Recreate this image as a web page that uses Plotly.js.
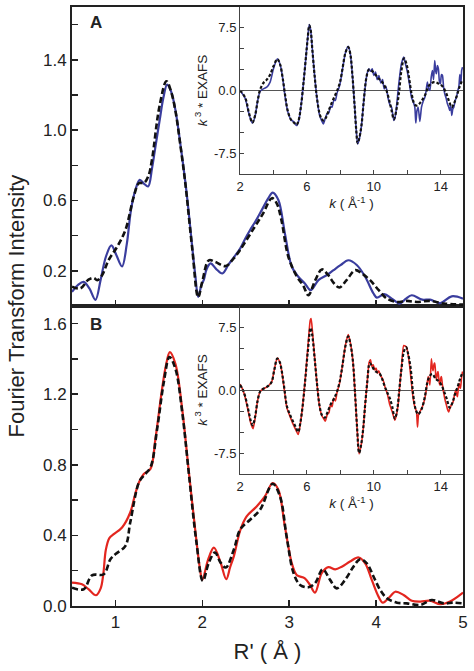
<!DOCTYPE html>
<html>
<head>
<meta charset="utf-8">
<script src="https://cdn.plot.ly/plotly-3.0.1.min.js"></script>
<style>html,body{margin:0;padding:0;background:#fff;}#chart{width:474px;height:671px;}</style>
</head>
<body>
<div id="chart"></div>
<script>
// ---- Panel A: Fourier transform (experimental, solid blue) ----
const rA_exp = [0.50,0.57,0.634,0.70,0.77,0.83,0.89,0.953,1.01,1.076,1.13,1.18,1.23,1.28,1.33,1.376,1.42,1.46,1.51,1.55,1.595,1.64,1.69,1.75,1.806,1.85,1.883,1.92,1.952,1.99,2.018,2.05,2.095,2.16,2.23,2.30,2.36,2.433,2.49,2.55,2.61,2.664,2.76,2.81,2.875,2.95,3.03,3.105,3.18,3.247,3.336,3.43,3.51,3.59,3.68,3.78,3.874,3.97,4.008,4.093,4.18,4.27,4.34,4.41,4.53,4.62,4.74,4.87,5.00];
const ftA_exp = [0.08,0.12,0.137,0.10,0.035,0.15,0.28,0.345,0.29,0.225,0.35,0.55,0.66,0.717,0.695,0.68,0.78,0.905,1.06,1.18,1.259,1.22,1.115,0.91,0.698,0.50,0.337,0.17,0.052,0.12,0.15,0.21,0.242,0.21,0.185,0.235,0.275,0.325,0.38,0.432,0.48,0.527,0.613,0.645,0.603,0.413,0.223,0.166,0.128,0.09,0.147,0.175,0.204,0.232,0.26,0.232,0.166,0.071,0.048,0.067,0.042,0.014,0.04,0.061,0.036,0.036,0.017,0.055,0.042];
// ---- Panel A: fit (dashed black) ----
const rA_fit = [0.50,0.596,0.69,0.75,0.79,0.846,0.92,1.02,1.115,1.21,1.27,1.33,1.38,1.42,1.507,1.587,1.64,1.69,1.75,1.806,1.883,1.952,2.00,2.075,2.15,2.27,2.36,2.433,2.59,2.70,2.80,2.856,2.91,2.99,3.09,3.16,3.22,3.30,3.375,3.45,3.517,3.578,3.66,3.76,3.836,3.93,4.03,4.124,4.24,4.354,4.47,4.62,4.78,5.00];
const ftA_fit = [0.11,0.10,0.15,0.16,0.147,0.175,0.26,0.337,0.432,0.62,0.698,0.70,0.74,0.83,1.136,1.278,1.22,1.11,0.905,0.69,0.33,0.05,0.14,0.26,0.25,0.227,0.27,0.318,0.44,0.527,0.613,0.584,0.489,0.28,0.166,0.118,0.061,0.147,0.208,0.175,0.128,0.105,0.147,0.204,0.185,0.147,0.09,0.042,0.023,0.029,0.023,0.029,0.014,0.008];

// ---- Panel B: Fourier transform (experimental, solid red) ----
const rB_exp = [0.50,0.615,0.69,0.777,0.83,0.86,0.89,0.93,0.98,1.076,1.17,1.22,1.27,1.326,1.403,1.46,1.537,1.58,1.626,1.69,1.768,1.845,1.93,1.97,2.00,2.068,2.133,2.21,2.275,2.32,2.364,2.437,2.51,2.625,2.72,2.81,2.875,2.95,3.03,3.086,3.18,3.24,3.297,3.374,3.45,3.53,3.605,3.70,3.80,3.874,3.95,4.028,4.078,4.16,4.22,4.316,4.41,4.51,4.62,4.74,4.85,5.00];
const ftB_exp = [0.133,0.123,0.095,0.061,0.10,0.18,0.32,0.385,0.407,0.445,0.53,0.62,0.70,0.748,0.777,0.947,1.231,1.36,1.439,1.373,1.117,0.758,0.379,0.22,0.148,0.265,0.331,0.246,0.152,0.22,0.284,0.43,0.508,0.564,0.621,0.697,0.659,0.451,0.242,0.176,0.157,0.119,0.076,0.186,0.22,0.208,0.223,0.252,0.275,0.242,0.148,0.053,0.019,0.053,0.081,0.0625,0.03,0.025,0.03,0.01,0.025,0.076];
// ---- Panel B: fit (dashed black) ----
const rB_fit = [0.50,0.635,0.73,0.865,0.942,1.00,1.115,1.17,1.27,1.326,1.403,1.48,1.557,1.622,1.69,1.768,1.845,1.93,2.006,2.075,2.145,2.21,2.27,2.364,2.437,2.55,2.664,2.81,2.894,2.97,3.05,3.125,3.22,3.297,3.386,3.47,3.547,3.643,3.74,3.816,3.893,3.97,4.047,4.124,4.24,4.354,4.51,4.64,4.78,4.89,5.00];
const ftB_fit = [0.104,0.095,0.174,0.18,0.265,0.294,0.341,0.473,0.70,0.739,0.786,1.004,1.269,1.411,1.345,1.10,0.75,0.37,0.142,0.246,0.303,0.246,0.218,0.322,0.435,0.489,0.545,0.693,0.621,0.394,0.186,0.119,0.106,0.129,0.208,0.148,0.10,0.148,0.223,0.265,0.242,0.167,0.091,0.044,0.019,0.015,0.006,0.034,0.015,0.019,0.015];

// ---- Inset A: k^3 EXAFS ----
const kA_exp = [2.0,2.3,2.55,2.74,2.9,3.05,3.2,3.4,3.6,3.8,4.0,4.23,4.4,4.55,4.7,4.85,5.05,5.25,5.38,5.5,5.65,5.8,5.95,6.05,6.14,6.22,6.32,6.45,6.6,6.75,6.88,6.98,7.1,7.2,7.3,7.42,7.5,7.62,7.7,7.8,7.9,8.0,8.15,8.3,8.47,8.6,8.72,8.85,8.95,9.03,9.12,9.26,9.4,9.56,9.7,9.8,9.9,10.0,10.1,10.2,10.3,10.42,10.52,10.62,10.72,10.85,10.96,11.06,11.2,11.3,11.45,11.55,11.65,11.79,11.9,11.99,12.12,12.25,12.38,12.45,12.51,12.58,12.65,12.75,12.85,12.95,13.05,13.12,13.2,13.28,13.35,13.43,13.5,13.57,13.64,13.7,13.74,13.8,13.86,13.92,13.98,14.04,14.1,14.17,14.24,14.32,14.4,14.48,14.54,14.6,14.66,14.72,14.78,14.86,14.94,15.02,15.08,15.14,15.2,15.25,15.3];
const chiA_exp = [0.0,-0.9,-2.9,-3.9,-3.1,-1.3,-0.1,0.2,0.4,1.0,2.6,3.8,3.1,1.5,-0.8,-2.5,-3.5,-3.8,-4.2,-3.7,-1.8,1.0,4.2,6.4,7.9,7.3,5.0,2.0,-0.9,-2.9,-3.6,-4.0,-3.3,-2.8,-2.7,-1.9,-2.0,-1.1,-1.2,-0.3,0.2,1.0,2.8,4.5,5.3,4.3,1.8,-1.8,-4.8,-6.4,-5.9,-4.2,-1.2,1.6,2.6,2.3,2.6,1.8,2.2,1.3,1.8,0.9,1.3,0.2,0.5,-0.9,-1.7,-2.0,-3.6,-2.9,0.0,1.8,3.2,4.0,3.1,2.4,0.9,-0.8,-1.5,-2.0,-3.9,-2.4,-2.0,-3.7,-2.0,-1.3,-0.8,-0.1,1.0,0.2,0.0,1.6,2.4,1.3,3.6,2.3,2.0,3.0,2.6,1.1,0.8,1.9,1.8,0.4,-0.4,-0.9,-1.6,-2.0,-2.4,-1.8,-3.0,-2.2,-2.0,-1.2,-0.8,0.0,0.4,1.9,0.8,2.4,2.8];
const kA_fit = [2.0,2.3,2.55,2.74,2.9,3.05,3.2,3.4,3.6,3.8,4.0,4.23,4.4,4.55,4.7,4.85,5.05,5.25,5.38,5.5,5.65,5.8,5.95,6.05,6.14,6.22,6.32,6.45,6.6,6.75,6.88,7.01,7.15,7.3,7.5,7.7,7.87,8.0,8.15,8.3,8.47,8.6,8.72,8.85,8.95,9.03,9.12,9.26,9.4,9.56,9.7,9.85,10.06,10.3,10.5,10.7,10.9,11.05,11.2,11.35,11.5,11.65,11.81,11.95,12.1,12.25,12.45,12.6,12.8,13.05,13.3,13.6,13.85,14.1,14.3,14.5,14.66,14.8,14.95,15.1,15.3];
const chiA_fit = [0.0,-0.8,-2.8,-3.85,-3.0,-1.3,0.1,0.9,1.3,1.9,2.9,3.75,3.1,1.5,-0.6,-2.4,-3.5,-3.9,-4.1,-3.6,-1.8,1.0,4.2,6.3,7.8,7.3,5.0,2.0,-0.9,-2.7,-3.4,-3.6,-3.2,-2.4,-1.4,-0.5,0.3,1.2,2.9,4.5,5.2,4.3,1.8,-1.8,-4.8,-6.3,-5.8,-4.2,-1.2,1.6,2.5,2.4,2.0,1.4,1.0,0.3,-1.0,-2.3,-3.45,-2.3,-0.3,2.4,3.85,3.2,1.6,-0.3,-1.7,-1.8,-1.4,-0.6,0.6,1.0,0.85,0.5,-0.2,-1.3,-2.0,-1.5,-0.7,0.3,1.3];

// ---- Inset B: k^3 EXAFS ----
const kB_exp = [2.0,2.15,2.3,2.5,2.65,2.78,2.9,3.05,3.2,3.35,3.55,3.75,3.9,4.05,4.23,4.38,4.5,4.65,4.8,5.0,5.18,5.35,5.48,5.6,5.75,5.9,6.05,6.2,6.25,6.33,6.45,6.6,6.75,6.9,7.0,7.1,7.22,7.32,7.4,7.5,7.6,7.7,7.8,7.95,8.1,8.3,8.47,8.6,8.75,8.88,9.0,9.12,9.24,9.36,9.48,9.6,9.72,9.8,9.88,9.96,10.06,10.14,10.22,10.3,10.4,10.5,10.6,10.66,10.8,10.96,11.1,11.26,11.35,11.45,11.55,11.65,11.79,11.95,12.11,12.25,12.35,12.45,12.55,12.61,12.68,12.75,12.9,13.05,13.15,13.25,13.35,13.44,13.5,13.54,13.6,13.64,13.7,13.74,13.8,13.84,13.9,13.94,14.0,14.04,14.1,14.18,14.26,14.34,14.42,14.48,14.54,14.58,14.66,14.74,14.82,14.9,14.96,15.0,15.06,15.1,15.15,15.18,15.24,15.3];
const chiB_exp = [0.7,0.1,-0.8,-2.6,-4.0,-4.6,-3.4,-1.3,-0.2,0.1,0.3,0.6,1.0,2.4,3.8,3.3,2.2,0.0,-2.1,-3.2,-4.1,-4.8,-5.3,-4.1,-1.8,1.3,4.9,8.3,8.5,7.0,4.2,0.8,-1.9,-3.1,-3.4,-3.7,-2.9,-2.7,-1.8,-2.0,-1.0,-1.3,-0.3,0.8,2.6,5.3,6.6,5.6,3.4,-0.5,-4.6,-7.6,-6.6,-4.7,-1.8,0.8,3.3,3.6,2.8,3.0,2.4,2.6,2.0,2.3,1.7,1.4,0.9,0.4,-0.4,-1.8,-2.6,-3.6,-3.0,-1.8,0.5,2.6,5.3,5.1,3.4,0.8,-1.0,-2.0,-2.6,-4.4,-2.8,-2.6,-2.0,-1.0,0.2,1.6,0.6,3.7,2.6,2.3,3.1,3.2,1.8,1.2,2.0,2.2,1.0,0.6,1.4,1.6,0.6,-0.4,-1.2,-1.8,-2.4,-2.6,-2.2,-2.0,-1.7,-1.4,-0.6,0.0,-0.6,-0.8,0.4,0.8,0.3,0.2,1.4,2.2];
const kB_fit = [2.0,2.15,2.3,2.5,2.65,2.76,2.9,3.05,3.2,3.35,3.55,3.75,3.9,4.05,4.23,4.38,4.5,4.65,4.8,5.0,5.18,5.35,5.48,5.6,5.75,5.9,6.05,6.22,6.32,6.45,6.6,6.75,6.9,7.07,7.22,7.4,7.6,7.8,7.95,8.1,8.3,8.47,8.6,8.75,8.88,9.0,9.12,9.24,9.36,9.48,9.6,9.76,9.9,10.06,10.2,10.36,10.5,10.66,10.8,10.96,11.1,11.26,11.4,11.52,11.65,11.8,11.93,12.05,12.2,12.35,12.5,12.65,12.85,13.05,13.2,13.35,13.5,13.7,13.85,14.04,14.2,14.35,14.54,14.7,14.85,15.03,15.15,15.3];
const chiB_fit = [0.6,0.1,-0.7,-2.4,-3.7,-4.2,-3.2,-1.3,-0.2,0.1,0.3,0.6,1.0,2.4,3.75,3.3,2.2,0.2,-1.9,-3.0,-3.8,-4.5,-5.0,-4.0,-1.8,1.2,4.5,7.4,6.5,4.0,0.8,-1.8,-3.0,-3.3,-2.7,-1.8,-1.1,-0.2,0.9,2.6,5.2,6.4,5.5,3.4,-0.5,-4.5,-7.5,-6.5,-4.7,-1.8,0.8,3.2,2.8,2.3,2.1,1.9,1.3,0.4,-0.3,-1.0,-2.0,-3.4,-2.3,0.0,2.5,4.6,5.1,4.3,2.6,-0.5,-2.3,-2.9,-2.3,-0.8,0.9,1.7,1.9,1.3,1.1,0.6,-0.2,-1.0,-2.1,-1.5,-0.5,0.5,1.3,2.1];

// ---- Ticks (labelled majors, unlabelled minors) ----
const rTicks = [1,2,3,4,5];
const rTicksA = [1,2,3,4];
const ftMajorA = [0.2,0.6,1.0,1.4];
const ftMinorA = [0.4,0.8,1.2,1.6];
const ftMajorB = [0.0,0.4,0.8,1.2,1.6];
const ftMinorB = [0.2,0.6,1.0,1.4];
const kMajor = [2,6,10,14];
const kMinor = [4,8,12];
const chiMajor = [-7.5,0,7.5];
const chiMajorText = ['-7.5','0.0','7.5'];
const chiMinor = [-5,-2.5,2.5,5];

const BLUE = '#3a3d9e';
const RED = '#e3261f';
const BLACK = '#111';
const FONT = 'Liberation Sans, Arial, Helvetica, sans-serif';

const traces = [
  {x:rA_exp, y:ftA_exp, xaxis:'x2', yaxis:'y2', mode:'lines', line:{color:BLUE, width:2.2, shape:'spline'}},
  {x:rA_fit, y:ftA_fit, xaxis:'x2', yaxis:'y2', mode:'lines', line:{color:BLACK, width:2.6, dash:'6px,3px', shape:'spline'}},
  {x:rB_exp, y:ftB_exp, xaxis:'x', yaxis:'y', mode:'lines', line:{color:RED, width:2.2, shape:'spline'}},
  {x:rB_fit, y:ftB_fit, xaxis:'x', yaxis:'y', mode:'lines', line:{color:BLACK, width:2.6, dash:'6px,3px', shape:'spline'}},
  {x:kA_exp, y:chiA_exp, xaxis:'x3', yaxis:'y3', mode:'lines', line:{color:BLUE, width:1.6, shape:'spline', smoothing:0.6}},
  {x:kA_fit, y:chiA_fit, xaxis:'x3', yaxis:'y3', mode:'lines', line:{color:BLACK, width:2.2, dash:'3px,2px', shape:'spline'}},
  {x:kB_exp, y:chiB_exp, xaxis:'x4', yaxis:'y4', mode:'lines', line:{color:RED, width:1.6, shape:'spline', smoothing:0.6}},
  {x:kB_fit, y:chiB_fit, xaxis:'x4', yaxis:'y4', mode:'lines', line:{color:BLACK, width:2.2, dash:'3px,2px', shape:'spline'}}
];

const mainX = {range:[0.5,5], ticks:'inside', ticklen:6, tickwidth:1.5, tickcolor:'#222',
  showline:true, mirror:true, linecolor:'#222', linewidth:2, showgrid:false, zeroline:false,
  tickfont:{size:17, family:FONT, color:'#222'}, tickmode:'array'};
const mainY = {range:[0,1.70], ticks:'inside', ticklen:6, tickwidth:1.5, tickcolor:'#222',
  showline:true, mirror:true, linecolor:'#222', linewidth:2, showgrid:false, zeroline:false,
  tickfont:{size:17, family:FONT, color:'#222'}, tickmode:'array', tickformat:'.1f'};
const insX = {range:[2,15.33], tickmode:'array', tickvals:kMajor, ticks:'inside', ticklen:4,
  tickwidth:1, tickcolor:'#444', showline:true, mirror:false, linecolor:'#444', linewidth:1,
  minor:{tickvals:kMinor, ticks:'inside', ticklen:4, tickwidth:1, tickcolor:'#444', showgrid:false},
  showgrid:false, zeroline:false, tickfont:{size:13, family:FONT, color:'#222'},
  title:{text:'<i>k</i> ( Å<sup>-1</sup> )', font:{size:13.5, family:FONT, color:'#222'}, standoff:2}};
const insY = {range:[-10,10], tickmode:'array', tickvals:chiMajor, ticktext:chiMajorText, ticks:'inside', ticklen:4,
  tickwidth:1, tickcolor:'#444', showline:true, mirror:false, linecolor:'#444', linewidth:1,
  minor:{tickvals:chiMinor, ticks:'inside', ticklen:4, tickwidth:1, tickcolor:'#444', showgrid:false},
  showgrid:false, zeroline:true, zerolinecolor:'#555', zerolinewidth:1,
  tickfont:{size:13, family:FONT, color:'#222'},
  title:{text:'<i>k</i><sup> 3</sup> * EXAFS', font:{size:13.5, family:FONT, color:'#222'}, standoff:3}};

const minorMain = (vals) => ({tickvals:vals, ticks:'inside', ticklen:6, tickwidth:1.5, tickcolor:'#222', showgrid:false});

const split = 300/599;
const layout = {
  width:474, height:671,
  margin:{l:72, r:11, t:7, b:65},
  paper_bgcolor:'#fff', plot_bgcolor:'rgba(0,0,0,0)',
  showlegend:false,
  font:{family:FONT, color:'#222'},
  xaxis:Object.assign({}, mainX, {domain:[0,1], anchor:'y', tickvals:rTicks,
    title:{text:"R' ( Å )", font:{size:22, family:FONT, color:'#222'}, standoff:12}}),
  yaxis:Object.assign({}, mainY, {domain:[0,split], anchor:'x', tickvals:ftMajorB, minor:minorMain(ftMinorB)}),
  xaxis2:Object.assign({}, mainX, {domain:[0,1], anchor:'y2', tickvals:rTicksA, showticklabels:false}),
  yaxis2:Object.assign({}, mainY, {domain:[split,1], anchor:'x2', tickvals:ftMajorA, minor:minorMain(ftMinorA)}),
  xaxis3:Object.assign({}, insX, {domain:[168/391,1], anchor:'y3'}),
  yaxis3:Object.assign({}, insY, {domain:[432/599,1], anchor:'x3'}),
  xaxis4:Object.assign({}, insX, {domain:[168/391,1], anchor:'y4'}),
  yaxis4:Object.assign({}, insY, {domain:[132/599,split], anchor:'x4'}),
  annotations:[
    {text:'Fourier Transform Intensity', xref:'paper', yref:'paper', x:(16-72)/391, y:0.5,
     xanchor:'center', yanchor:'middle', textangle:-90, showarrow:false, font:{size:22, family:FONT, color:'#222'}},
    {text:'<b>A</b>', xref:'paper', yref:'paper', x:(95.5-72)/391, y:(606-22.5)/599,
     xanchor:'center', yanchor:'middle', showarrow:false, font:{size:17, family:FONT, color:'#222'}},
    {text:'<b>B</b>', xref:'paper', yref:'paper', x:(95.5-72)/391, y:(606-324)/599,
     xanchor:'center', yanchor:'middle', showarrow:false, font:{size:17, family:FONT, color:'#222'}}
  ]
};

Plotly.newPlot('chart', traces, layout, {staticPlot:true, displayModeBar:false});
</script>
</body>
</html>
